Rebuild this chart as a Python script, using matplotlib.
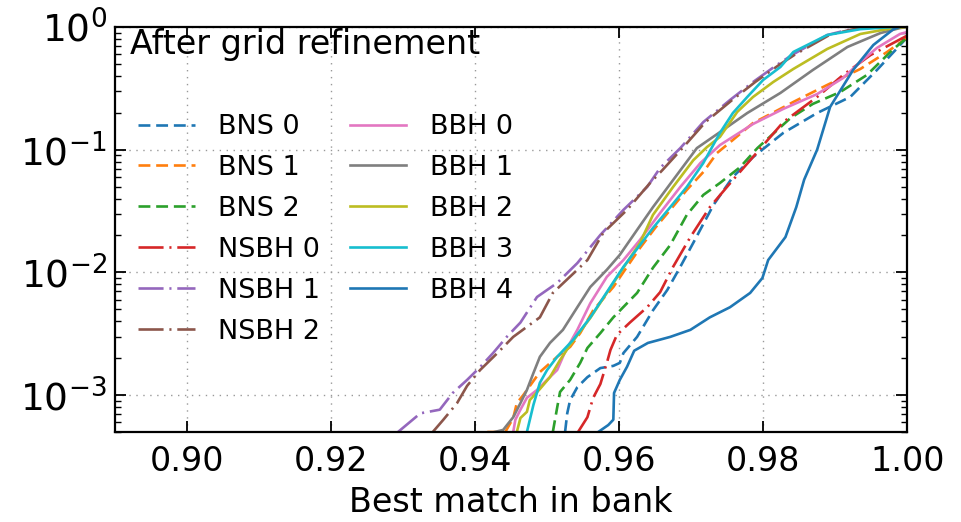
import matplotlib
matplotlib.use("Agg")
import matplotlib.pyplot as plt

# cumulative fraction of injections whose best match is below x
bns0_x = [0.9525, 0.9528, 0.9532, 0.9542, 0.9556, 0.9574, 0.9592, 0.9601, 0.9606, 0.9625, 0.9647,
          0.9667, 0.9685, 0.9703, 0.9731, 0.9758, 0.9786, 0.9828, 0.9875, 0.9921, 0.9958, 0.9999]
bns0_y = [5.0e-4, 7.1e-4, 9.1e-4, 1.16e-3, 1.4e-3, 1.66e-3, 1.73e-3, 1.83e-3, 2.2e-3, 2.98e-3, 4.9e-3,
          7.2e-3, 0.0111, 0.0174, 0.0354, 0.060, 0.087, 0.137, 0.199, 0.269, 0.446, 0.81]

bns1_x = [0.9417, 0.9442, 0.9453, 0.9458, 0.9467, 0.9490, 0.9514, 0.9532, 0.9546, 0.9564, 0.9592,
          0.9611, 0.9629, 0.9650, 0.9671, 0.9694, 0.9717, 0.9736, 0.9758, 0.9786, 0.9810, 0.9842,
          0.9889, 0.9935, 0.9972, 0.9999]
bns1_y = [5.0e-4, 5.0e-4, 6.5e-4, 8.6e-4, 1.0e-3, 1.54e-3, 2.05e-3, 2.47e-3, 3.2e-3, 4.9e-3, 7.6e-3,
          0.0111, 0.0158, 0.023, 0.0323, 0.047, 0.0658, 0.094, 0.12, 0.165, 0.195, 0.245,
          0.337, 0.455, 0.625, 0.81]

bns2_x = [0.9508, 0.9514, 0.9518, 0.9532, 0.9546, 0.9556, 0.9574, 0.9592, 0.9611, 0.9625, 0.9647,
          0.9671, 0.9694, 0.9717, 0.9740, 0.9768, 0.9792, 0.9838, 0.9869, 0.9907, 0.9944, 0.9981, 0.9999]
bns2_y = [5.0e-4, 7.9e-4, 1.06e-3, 1.33e-3, 1.83e-3, 2.42e-3, 3.2e-3, 4.3e-3, 5.6e-3, 6.8e-3, 0.0109,
          0.0167, 0.0294, 0.0428, 0.0535, 0.072, 0.103, 0.181, 0.236, 0.295, 0.406, 0.662, 0.81]

nsbh0_x = [0.9543, 0.9556, 0.9564, 0.9574, 0.9583, 0.9588, 0.9597, 0.9615, 0.9639, 0.9657, 0.9675,
           0.9699, 0.9726, 0.9758, 0.9782, 0.9828, 0.9875, 0.9911, 0.9949, 0.9999]
nsbh0_y = [5.0e-4, 6.6e-4, 9.5e-4, 1.23e-3, 1.83e-3, 2.33e-3, 3.1e-3, 3.9e-3, 5.2e-3, 6.9e-3, 0.0111,
           0.0194, 0.034, 0.0566, 0.082, 0.168, 0.269, 0.406, 0.59, 0.845]

nsbh1_x = [0.9293, 0.9324, 0.9351, 0.9369, 0.9389, 0.9407, 0.9425, 0.9444, 0.9463, 0.9486, 0.9514,
           0.9542, 0.9574, 0.9606, 0.9639, 0.9657, 0.9685, 0.9717, 0.9754, 0.9786, 0.9819, 0.9842,
           0.9889, 0.9917, 0.9942, 1.0]
nsbh1_y = [5.0e-4, 7.1e-4, 7.6e-4, 1.04e-3, 1.33e-3, 1.69e-3, 2.2e-3, 2.98e-3, 3.9e-3, 6.3e-3, 8.2e-3,
           0.0119, 0.0202, 0.0323, 0.0497, 0.071, 0.103, 0.168, 0.254, 0.356, 0.49, 0.60,
           0.86, 0.945, 1.0, 1.0]

nsbh2_x = [0.9340, 0.9356, 0.9375, 0.9389, 0.9407, 0.9431, 0.9453, 0.9472, 0.9490, 0.9508, 0.9542,
           0.9556, 0.9578, 0.9611, 0.9643, 0.9660, 0.9688, 0.9720, 0.9757, 0.9789, 0.9822, 0.9845,
           0.9892, 0.9920, 0.9945, 1.0]
nsbh2_y = [4.9e-4, 6.3e-4, 8.6e-4, 1.19e-3, 1.6e-3, 2.2e-3, 2.98e-3, 3.6e-3, 4.3e-3, 6.8e-3, 0.0105,
           0.0126, 0.021, 0.0323, 0.0535, 0.068, 0.103, 0.168, 0.254, 0.356, 0.49, 0.60,
           0.86, 0.945, 1.0, 1.0]

bbh0_x = [0.9453, 0.9456, 0.9463, 0.9472, 0.9486, 0.9500, 0.9514, 0.9525, 0.9542, 0.9560, 0.9583,
          0.9606, 0.9629, 0.9657, 0.9685, 0.9713, 0.9740, 0.9786, 0.9828, 0.9875, 0.9911, 0.9935,
          0.9958, 0.9990, 1.0]
bbh0_y = [5.0e-4, 6.3e-4, 7.6e-4, 9.5e-4, 1.1e-3, 1.33e-3, 1.6e-3, 2.25e-3, 3.4e-3, 5.6e-3, 9.2e-3,
          0.0126, 0.0184, 0.0305, 0.0497, 0.078, 0.109, 0.162, 0.215, 0.284, 0.384, 0.519,
          0.675, 0.877, 0.91]

bbh1_x = [0.9421, 0.9439, 0.9453, 0.9463, 0.9472, 0.9481, 0.9490, 0.9504, 0.9522, 0.9542, 0.9560,
          0.9583, 0.9601, 0.9625, 0.9647, 0.9675, 0.9708, 0.9740, 0.9778, 0.9824, 0.9869, 0.9917,
          0.9963, 0.9990, 1.0]
bbh1_y = [4.9e-4, 5.2e-4, 6.6e-4, 8.6e-4, 1.1e-3, 1.51e-3, 2.05e-3, 2.66e-3, 3.4e-3, 5.2e-3, 7.6e-3,
          0.0105, 0.0139, 0.0222, 0.034, 0.0566, 0.103, 0.139, 0.199, 0.29, 0.446, 0.687,
          0.893, 0.98, 1.0]

bbh2_x = [0.9458, 0.9463, 0.9472, 0.9476, 0.9490, 0.9504, 0.9518, 0.9532, 0.9560, 0.9583, 0.9606,
          0.9629, 0.9647, 0.9675, 0.9703, 0.9722, 0.9740, 0.9764, 0.9786, 0.9814, 0.9842, 0.9889,
          0.9935, 0.9972, 0.9997]
bbh2_y = [5.0e-4, 6.5e-4, 7.3e-4, 9.1e-4, 1.12e-3, 1.4e-3, 1.93e-3, 2.56e-3, 4.25e-3, 6.8e-3, 0.0109,
          0.0174, 0.0294, 0.0497, 0.082, 0.105, 0.127, 0.203, 0.269, 0.356, 0.455, 0.662,
          0.877, 0.96, 1.0]

bbh3_x = [0.9472, 0.9481, 0.9490, 0.9500, 0.9514, 0.9536, 0.9560, 0.9583, 0.9606, 0.9629, 0.9647,
          0.9671, 0.9694, 0.9717, 0.9740, 0.9758, 0.9778, 0.9800, 0.9824, 0.9842, 0.9889, 0.9935, 0.9981]
bbh3_y = [5.0e-4, 8.3e-4, 1.26e-3, 1.6e-3, 2.05e-3, 2.81e-3, 4.3e-3, 6.9e-3, 0.0111, 0.0167, 0.023,
          0.034, 0.0497, 0.078, 0.137, 0.199, 0.269, 0.37, 0.472, 0.626, 0.86, 0.96, 1.0]

bbh4_x = [0.9571, 0.9585, 0.9592, 0.9593, 0.9601, 0.9611, 0.9621, 0.9640, 0.9671, 0.9699, 0.9726,
          0.9754, 0.9782, 0.9799, 0.9807, 0.9831, 0.9846, 0.9857, 0.9875, 0.9893, 0.9925, 0.9953,
          0.9981, 0.9990]
bbh4_y = [5.0e-4, 5.7e-4, 6.3e-4, 1.04e-3, 1.33e-3, 1.7e-3, 2.3e-3, 2.66e-3, 2.98e-3, 3.4e-3, 4.3e-3,
          5.2e-3, 6.8e-3, 9.0e-3, 0.0126, 0.0194, 0.034, 0.057, 0.1, 0.223, 0.447, 0.713,
          0.96, 1.0]

dash = (0, (4.5, 2.2))
dashdot = (0, (9.5, 2.2, 0.8, 2.2))

series = [
    ("BNS 0", bns0_x, bns0_y, "#1f77b4", dash),
    ("BNS 1", bns1_x, bns1_y, "#ff7f0e", dash),
    ("BNS 2", bns2_x, bns2_y, "#2ca02c", dash),
    ("NSBH 0", nsbh0_x, nsbh0_y, "#d62728", dashdot),
    ("NSBH 1", nsbh1_x, nsbh1_y, "#9467bd", dashdot),
    ("NSBH 2", nsbh2_x, nsbh2_y, "#8c564b", dashdot),
    ("BBH 0", bbh0_x, bbh0_y, "#e377c2", "-"),
    ("BBH 1", bbh1_x, bbh1_y, "#7f7f7f", "-"),
    ("BBH 2", bbh2_x, bbh2_y, "#bcbd22", "-"),
    ("BBH 3", bbh3_x, bbh3_y, "#17becf", "-"),
    ("BBH 4", bbh4_x, bbh4_y, "#1f77b4", "-"),
]

fig = plt.figure(figsize=(9.62, 5.22), dpi=100)
ax = fig.add_axes([0.1195, 0.1724, 0.8235, 0.7759])

for name, xs, ys, color, ls in series:
    ax.plot(xs, ys, color=color, linestyle=ls, linewidth=1.9, label=name)

ax.set_yscale("log")
ax.set_xlim(0.89, 1.0)
ax.set_ylim(5e-4, 1.0)
ax.set_xticks([0.90, 0.92, 0.94, 0.96, 0.98, 1.00])
ax.set_xticklabels(["0.90", "0.92", "0.94", "0.96", "0.98", "1.00"])
ax.set_xlabel("Best match in bank", fontsize=24, labelpad=6)

ax.grid(True, which="major", linestyle=(0, (1, 4)), color="#999999", linewidth=1.0)
ax.tick_params(which="both", direction="in", top=True, right=True)
ax.tick_params(which="major", length=8, width=1.3)
ax.tick_params(which="minor", length=4, width=1.0)
ax.tick_params(axis="x", which="major", pad=9, labelsize=24)
ax.tick_params(axis="y", which="major", pad=6, labelsize=27)
for spine in ax.spines.values():
    spine.set_linewidth(1.6)

ax.text(0.019, 0.956, "After grid refinement", transform=ax.transAxes,
        fontsize=24, va="center", ha="left")
ax.legend(loc="upper left", bbox_to_anchor=(0.029, 0.785), ncol=2, frameon=False,
          fontsize=19.5, handlelength=2.1, handletextpad=0.85, columnspacing=1.1,
          labelspacing=0.55, borderpad=0, borderaxespad=0)

fig.savefig("out.png", dpi=100)
